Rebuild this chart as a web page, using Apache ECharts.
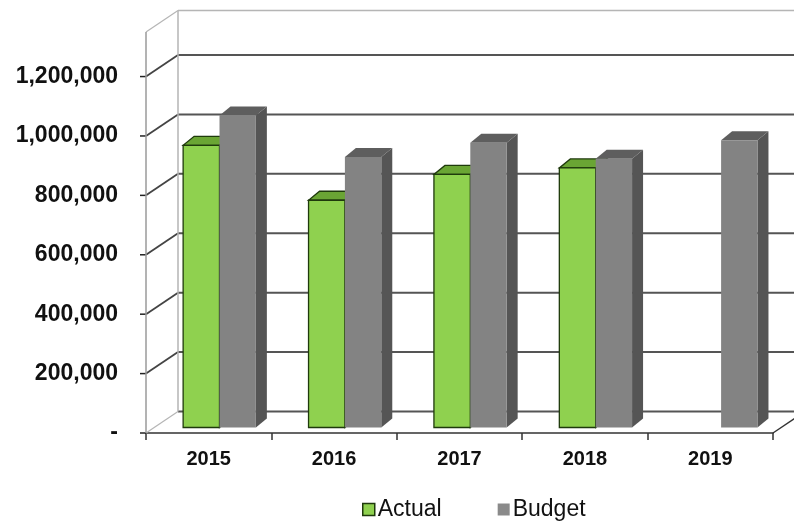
<!DOCTYPE html>
<html>
<head>
<meta charset="utf-8">
<script src="https://cdn.jsdelivr.net/npm/echarts@6/dist/echarts.min.js"></script>
<style>
  html, body { margin: 0; padding: 0; background: #ffffff; }
  #chart { width: 794px; height: 522px; }
</style>
</head>
<body>
<div id="chart"></div>
<script>
// Actual vs. budget by year
const years = ['2015', '2016', '2017', '2018', '2019'];
const actual = [950000, 765000, 852000, 874000, null];
const budget = [1050000, 911000, 959000, 905000, 967000];
const tickValues = [0, 200000, 400000, 600000, 800000, 1000000, 1200000];
const axisMax = 1350000;

// Oblique projection offsets
const WALL_DX = 32, WALL_DY = -21.5;   // front plane -> back wall
const BAR_DX = 10.8, BAR_DY = -5.5;    // front plane -> bar front faces
const DEPTH_DX = 11, DEPTH_DY = -9;    // bar thickness
const BAR_RATIO = 0.29;

const FONT = "'Liberation Sans', Arial, sans-serif";

const chart = echarts.init(document.getElementById('chart'));

function fmt(v) {
  if (v === 0) return '-';
  return String(v).replace(/\B(?=(\d{3})+(?!\d))/g, ',');
}

// Back wall grid lines, side-wall diagonals and front axis ticks
function renderGridLine(params, api) {
  const cs = params.coordSys;
  const v = api.value(0);
  const y = api.coord([0, v])[1];
  const fx = cs.x;
  const bx = fx + WALL_DX, by = y + WALL_DY;
  const isTop = v >= axisMax;
  const col = isTop ? '#b5b5b5' : '#555555';
  const children = [
    { type: 'line', shape: { x1: bx, y1: by, x2: api.getWidth(), y2: by },
      style: { stroke: col, lineWidth: isTop ? 1.5 : 2 } },
    { type: 'line', shape: { x1: fx, y1: y, x2: bx, y2: by },
      style: { stroke: (isTop || v === 0) ? '#b5b5b5' : '#444444', lineWidth: (isTop || v === 0) ? 1.2 : 1.8 } }
  ];
  if (!isTop) {
    children.push({ type: 'line', shape: { x1: fx - 6, y1: y, x2: fx, y2: y },
      style: { stroke: '#222222', lineWidth: 1.5 } });
  }
  return { type: 'group', children: children };
}

// Frame edges: front axis, back-left edge, right floor diagonal
function renderFrame(params, api) {
  const cs = params.coordSys;
  const top = api.coord([0, axisMax])[1];
  const bottom = api.coord([0, 0])[1];
  const fx = cs.x, rx = cs.x + cs.width;
  return {
    type: 'group',
    children: [
      { type: 'line', shape: { x1: fx, y1: top, x2: fx, y2: bottom },
        style: { stroke: '#9a9a9a', lineWidth: 1.5 } },
      { type: 'line', shape: { x1: fx + WALL_DX, y1: top + WALL_DY, x2: fx + WALL_DX, y2: bottom + WALL_DY },
        style: { stroke: '#b5b5b5', lineWidth: 1.5 } },
      { type: 'line', shape: { x1: rx, y1: bottom, x2: rx + WALL_DX, y2: bottom + WALL_DY },
        style: { stroke: '#333333', lineWidth: 1.5 } }
    ]
  };
}

function makeBarRenderer(side, c) {
  return function (params, api) {
    const val = api.value(1);
    if (val == null || isNaN(val)) return null;
    const cat = api.value(0);
    const base = api.coord([cat, 0]);
    const topPt = api.coord([cat, val]);
    const bw = api.size([1, 0])[0] * BAR_RATIO;
    const cx = base[0] + BAR_DX;
    const x0 = side === 0 ? cx - bw : cx;
    const x1 = x0 + bw;
    const yb = base[1] + BAR_DY;
    const yt = topPt[1] + BAR_DY;
    const children = [
      { type: 'polygon', shape: { points: [[x1, yt], [x1 + DEPTH_DX, yt + DEPTH_DY], [x1 + DEPTH_DX, yb + DEPTH_DY], [x1, yb]] },
        style: { fill: c.side, stroke: c.stroke, lineWidth: c.lw } },
      { type: 'polygon', shape: { points: [[x0, yt], [x1, yt], [x1 + DEPTH_DX, yt + DEPTH_DY], [x0 + DEPTH_DX, yt + DEPTH_DY]] },
        style: { fill: c.top, stroke: c.stroke, lineWidth: c.lw } },
      { type: 'rect', shape: { x: x0, y: yt, width: bw, height: yb - yt },
        style: { fill: c.front, stroke: c.stroke, lineWidth: c.lw } }
    ];
    return { type: 'group', children: children };
  };
}

const greenFaces = { front: '#8fd14f', top: '#6aa534', side: '#5a8f2c', stroke: '#1f3a0c', lw: 1.3 };
const grayFaces = { front: '#838383', top: '#5e5e5e', side: '#555555', stroke: null, lw: 0 };

const option = {
  backgroundColor: '#ffffff',
  animation: false,
  grid: { left: 146, right: 21, top: 32, bottom: 89, containLabel: false },
  legend: {
    left: 362,
    top: 498,
    padding: 0,
    itemWidth: 12,
    itemHeight: 12,
    itemGap: 56,
    icon: 'rect',
    textStyle: { fontFamily: FONT, fontSize: 23, color: '#111111', padding: [0, 0, 0, -2] },
    data: [
      { name: 'Actual', itemStyle: { color: '#8fd14f', borderColor: '#1f3a0c', borderWidth: 1.5 } },
      { name: 'Budget', itemStyle: { color: '#8a8a8a', borderWidth: 0 } }
    ]
  },
  xAxis: {
    type: 'category',
    data: years,
    axisLine: { show: true, lineStyle: { color: '#333333', width: 1.5 } },
    axisTick: { show: true, length: 7, lineStyle: { color: '#333333', width: 1.5 } },
    axisLabel: { fontFamily: FONT, fontSize: 20, fontWeight: 'bold', color: '#111111', margin: 16 },
    splitLine: { show: false }
  },
  yAxis: {
    type: 'value',
    min: 0,
    max: axisMax,
    interval: 200000,
    axisLine: { show: false },
    axisTick: { show: false },
    splitLine: { show: false },
    axisLabel: {
      fontFamily: FONT, fontSize: 23, fontWeight: 'bold', color: '#111111',
      margin: 28, showMaxLabel: false,
      formatter: fmt
    }
  },
  series: [
    {
      type: 'custom', name: 'grid', silent: true, z: 1,
      renderItem: renderGridLine,
      data: tickValues.concat([axisMax]).map(v => [v]),
      encode: { y: 0 }
    },
    {
      type: 'custom', name: 'frame', silent: true, z: 1,
      renderItem: renderFrame,
      data: [[0]],
      encode: { y: 0 }
    },
    {
      type: 'custom', name: 'Actual', z: 3,
      itemStyle: { color: '#8fd14f' },
      renderItem: makeBarRenderer(0, greenFaces),
      data: actual.map((v, i) => [i, v]),
      encode: { x: 0, y: 1 }
    },
    {
      type: 'custom', name: 'Budget', z: 4,
      itemStyle: { color: '#8a8a8a' },
      renderItem: makeBarRenderer(1, grayFaces),
      data: budget.map((v, i) => [i, v]),
      encode: { x: 0, y: 1 }
    }
  ]
};

chart.setOption(option);
</script>
</body>
</html>
